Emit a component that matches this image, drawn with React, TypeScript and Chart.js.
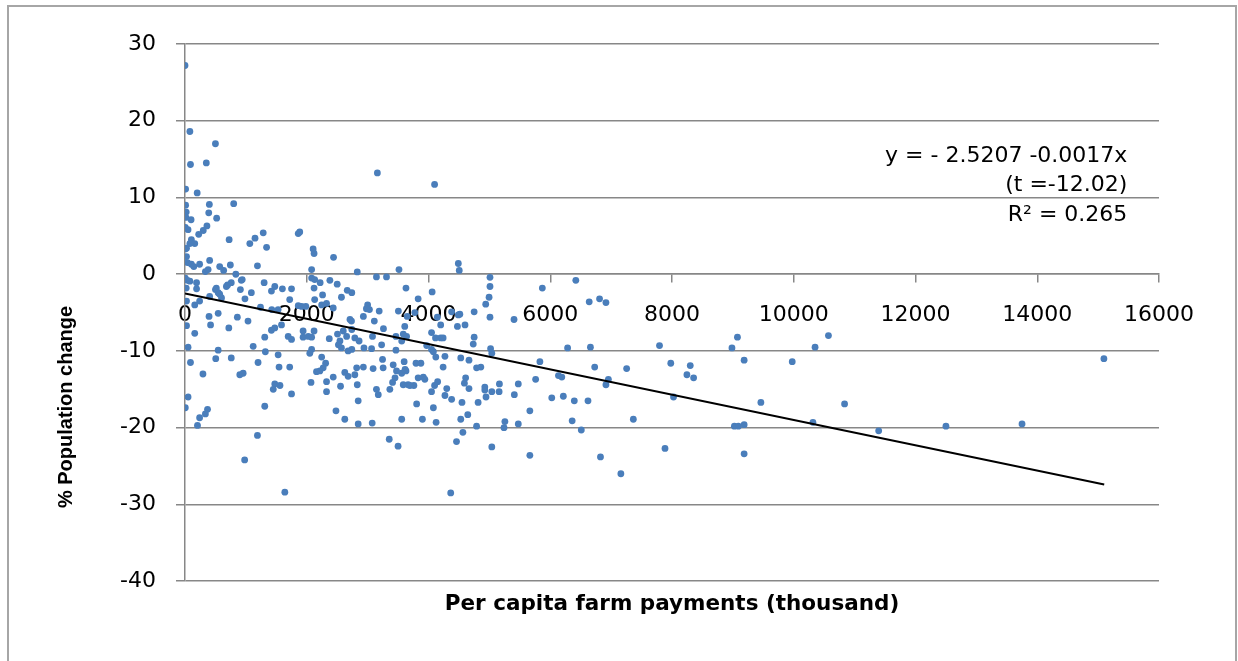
import React, { useEffect, useRef } from "react";
import { Chart, registerables } from "chart.js";

Chart.register(...registerables);

// Per capita farm payments (thousand) vs % population change, one pair per county
const countyPoints: [number, number][] = [
  [0, 27.2], [80, 18.6], [500, 17.0], [90, 14.3], [350, 14.5], [10, 11.1], [200, 10.6], [10, 9.0], [400, 9.1], [800, 9.2],
  [390, 8.0], [20, 8.1], [15, 7.4], [100, 7.1], [520, 7.3], [5, 6.1], [50, 5.8], [360, 6.3], [300, 5.7], [225, 5.2],
  [105, 4.5], [160, 4.0], [80, 4.0], [5, 3.3], [25, 3.4], [25, 2.3], [40, 1.5], [105, 1.3], [240, 1.3], [335, 0.35],
  [405, 1.8], [725, 4.5], [1065, 4.0], [1150, 4.7], [1285, 5.4], [1340, 3.5], [1190, 1.1], [745, 1.2], [570, 1.0], [635, 0.5],
  [835, 0.0], [1860, 5.3], [1885, 5.5], [2105, 3.3], [2120, 2.7], [2440, 2.2], [2080, 0.6], [40, -0.8], [190, -1.1], [925, -0.8],
  [700, -1.4], [1300, -1.1], [1475, -1.6], [2080, -0.5], [2130, -0.7], [2220, -1.1], [2380, -0.8], [2500, -1.3], [2665, -2.1], [2120, -1.8],
  [1750, -1.9], [1600, -1.9], [500, -2.0], [20, -1.8], [190, -1.9], [910, -2.0], [3160, 13.2], [4100, 11.7], [2830, 0.3], [3145, -0.35],
  [3310, -0.35], [3515, 0.6], [3630, -1.8], [2570, -3.0], [2130, -3.3], [2260, -2.7], [3000, -4.0], [3030, -4.6], [3190, -4.8], [3830, -3.2],
  [4490, 1.4], [4505, 0.5], [5010, -0.4], [5010, -1.6], [4995, -3.0], [4940, -3.9], [5010, -5.6], [5405, -5.9], [5870, -1.8], [6420, -0.8],
  [6640, -3.6], [6810, -3.2], [6915, -3.7], [4060, -2.3], [4750, -4.9], [4515, -5.2], [4380, -4.9], [4145, -5.6], [4200, -6.6], [4600, -6.6],
  [4475, -6.8], [3610, -6.8], [6285, -9.6], [6660, -9.5], [7795, -9.3], [7980, -11.6], [8300, -11.9], [8245, -13.1], [8355, -13.5], [9075, -8.2],
  [8985, -9.6], [9185, -11.2], [5830, -11.4], [5760, -13.7], [6135, -13.2], [6190, -13.4], [6730, -12.1], [7255, -12.3], [6955, -13.7], [6915, -14.4],
  [6025, -16.1], [6215, -15.9], [6395, -16.5], [6620, -16.5], [5665, -17.8], [6360, -19.1], [6510, -20.3], [7365, -18.9], [8025, -16.0], [9025, -19.8],
  [9090, -19.8], [9185, -19.6], [9185, -23.4], [7885, -22.7], [6825, -23.8], [7160, -26.0], [5665, -23.6], [10570, -8.0], [10350, -9.5], [9975, -11.4],
  [15095, -11.0], [9460, -16.7], [10835, -16.9], [10315, -19.3], [11395, -20.4], [12500, -19.8], [13750, -19.5], [4050, -7.6], [4200, -8.3], [4115, -8.3],
  [4240, -8.3], [4750, -8.2], [4735, -9.1], [3640, -8.1], [3560, -8.7], [3970, -9.3], [4050, -9.8], [4080, -10.1], [4120, -10.8], [4270, -10.7],
  [4530, -10.9], [4665, -11.2], [4860, -12.1], [5020, -9.7], [5040, -10.3], [4240, -12.1], [3875, -11.6], [3600, -11.4], [3630, -12.6], [3560, -12.9],
  [3830, -13.5], [3915, -13.4], [3940, -13.7], [4150, -14.0], [4100, -14.5], [4610, -13.5], [4590, -14.2], [4665, -14.9], [5165, -14.3], [5475, -14.3],
  [4925, -14.7], [4925, -15.1], [5040, -15.3], [5160, -15.3], [3760, -14.5], [3585, -14.4], [3665, -14.4], [4050, -15.3], [4270, -15.8], [4380, -16.3],
  [4945, -16.0], [5410, -15.7], [4550, -16.7], [4815, -16.7], [3805, -16.9], [4080, -17.4], [4645, -18.3], [4530, -18.9], [3900, -18.9], [4125, -19.3],
  [3560, -18.9], [4565, -20.6], [4790, -19.8], [5255, -19.2], [5240, -20.0], [5475, -19.5], [4460, -21.8], [5040, -22.5], [4365, -28.5], [3500, -22.4],
  [2845, -16.5], [2845, -19.5], [3075, -19.4], [3355, -21.5], [2830, -14.4], [3145, -15.0], [3175, -15.7], [3365, -15.0], [3410, -14.1], [3450, -13.5],
  [3695, -14.5], [4300, -14.9], [2980, -4.5], [2930, -5.5], [3110, -6.1], [3260, -7.1], [2735, -6.1], [2790, -8.3], [3080, -8.1], [2940, -9.6],
  [3065, -9.7], [3230, -9.2], [3465, -8.1], [3585, -7.8], [3465, -9.9], [3505, -4.8], [3650, -5.5], [3775, -5.0], [4490, -5.3], [3255, -12.2],
  [3090, -12.3], [2930, -12.1], [2820, -12.2], [3475, -12.6], [3615, -12.4], [3245, -11.1], [3420, -11.8], [3795, -11.6], [2740, -9.8], [2860, -8.7],
  [2740, -7.2], [2740, -2.4], [4790, -12.2], [985, -3.2], [600, -3.1], [405, -2.9], [240, -3.5], [160, -4.0], [25, -3.5], [545, -2.4],
  [1090, -2.4], [1240, -4.3], [1420, -2.2], [1720, -3.3], [1425, -4.6], [1530, -4.6], [1860, -4.1], [1915, -4.2], [2245, -4.0], [2325, -3.8],
  [2435, -4.4], [2710, -5.9], [545, -5.1], [395, -5.5], [860, -5.6], [1035, -6.1], [420, -6.6], [25, -6.7], [720, -7.0], [160, -7.7],
  [1310, -8.2], [1420, -7.3], [1475, -7.0], [1585, -6.6], [1695, -8.1], [1750, -8.5], [1940, -8.2], [2025, -8.1], [2080, -8.2], [1940, -7.4],
  [2120, -7.4], [2370, -8.4], [2505, -7.8], [2600, -7.4], [2655, -8.1], [2545, -8.7], [2520, -9.2], [2570, -9.6], [2680, -10.0], [2080, -9.8],
  [2050, -10.3], [1530, -10.5], [1320, -10.1], [1120, -9.4], [545, -9.9], [50, -9.5], [90, -11.5], [505, -11.0], [760, -10.9], [1200, -11.5],
  [1545, -12.1], [1720, -12.1], [2245, -10.8], [2310, -11.6], [2270, -12.2], [2215, -12.6], [2625, -12.8], [2680, -13.3], [295, -13.0], [900, -13.1],
  [955, -12.9], [1475, -14.3], [1450, -15.0], [1560, -14.5], [1750, -15.6], [2070, -14.1], [2325, -14.0], [2435, -13.4], [2555, -14.6], [2325, -15.3],
  [50, -16.0], [5, -17.4], [370, -17.6], [335, -18.2], [240, -18.7], [205, -19.7], [1310, -17.2], [2480, -17.8], [2625, -18.9], [1190, -21.0],
  [980, -24.2], [1640, -28.4], [2160, -12.7], [2790, -13.1], [5, -0.5], [80, -0.9], [515, -1.8], [680, -1.6], [760, -1.1], [570, -2.6],
  [940, -0.7], [1985, -4.2], [380, 0.6], [145, 1.0],
];

// Fitted trend line end points
const trendX = [0, 15100];
const trendY = [-2.52, -27.4];

// Axis ranges / ticks
const xRange = [0, 16000];
const xStep = 2000;
const yRange = [-40, 30];
const yStep = 10;

const xTitle = "Per capita farm payments (thousand)";
const yTitle = "% Population change";
const equationLines = ["y = - 2.5207 -0.0017x", "(t =-12.02)", "R\u00B2 = 0.265"];
// anchor of the equation text block (data units)
const equationAnchor = [15480, 15.4];
// vertical centre of the y-axis title (data units)
const yTitleCenter = -17.3;

const POINT_COLOR = "#4a7ebb";
const GRID_COLOR = "#878787";

const textPlugin = {
  id: "extraText",
  afterDatasetsDraw(chart: any) {
    const { ctx, scales } = chart;
    const x = scales.x.getPixelForValue(equationAnchor[0]);
    const y0 = scales.y.getPixelForValue(equationAnchor[1]);
    ctx.save();
    ctx.font = '22px "DejaVu Sans"';
    ctx.fillStyle = "#000";
    ctx.textAlign = "right";
    ctx.textBaseline = "middle";
    const offsets = [0, 29, 59];
    equationLines.forEach((line, i) => {
      ctx.fillText(line, x, y0 + offsets[i]);
    });
    ctx.restore();

    // y-axis title
    const ty = scales.y.getPixelForValue(yTitleCenter);
    ctx.save();
    ctx.translate(66, ty);
    ctx.rotate(-Math.PI / 2);
    ctx.font = 'bold 20px "Liberation Sans"';
    ctx.fillStyle = "#000";
    ctx.textAlign = "center";
    ctx.textBaseline = "middle";
    ctx.fillText(yTitle, 0, 0);
    ctx.restore();
  },
};

export default function App() {
  const canvasRef = useRef<HTMLCanvasElement | null>(null);

  useEffect(() => {
    if (!canvasRef.current) return;
    const chart = new Chart(canvasRef.current, {
      type: "scatter",
      data: {
        datasets: [
          {
            data: countyPoints.map(([x, y]) => ({ x, y })),
            pointStyle: "circle",
            pointRadius: 3.4,
            backgroundColor: POINT_COLOR,
            borderColor: POINT_COLOR,
            borderWidth: 0,
            order: 2,
          },
          {
            type: "line" as any,
            data: trendX.map((x, i) => ({ x, y: trendY[i] })),
            borderColor: "#000",
            borderWidth: 2,
            pointRadius: 0,
            showLine: true,
            fill: false,
            order: 1,
          } as any,
        ],
      },
      options: {
        responsive: false,
        animation: false,
        events: [],
        layout: { padding: { left: 8, top: 44, right: 79, bottom: 34 } },
        plugins: {
          legend: { display: false },
          tooltip: { enabled: false },
          title: {
            display: true,
            position: "bottom",
            fullSize: false,
            text: xTitle,
            color: "#000",
            font: { family: "DejaVu Sans", weight: "bold", size: 21.5 },
            padding: { top: 10, bottom: 10 },
          },
        },
        scales: {
          x: {
            type: "linear",
            min: xRange[0],
            max: xRange[1],
            position: { y: 0 } as any,
            ticks: {
              stepSize: xStep,
              color: "#000",
              font: { family: "DejaVu Sans", size: 22 },
              padding: 20,
              maxRotation: 0,
              autoSkip: false,
              callback: (v: any) => String(v),
            },
            grid: {
              drawOnChartArea: false,
              drawTicks: true,
              tickLength: 8,
              color: GRID_COLOR,
              lineWidth: 1.5,
            },
            border: { display: true, color: GRID_COLOR, width: 1.5 },
          },
          y: {
            type: "linear",
            min: yRange[0],
            max: yRange[1],
            ticks: {
              stepSize: yStep,
              color: "#000",
              font: { family: "DejaVu Sans", size: 22 },
              padding: 20,
            },
            grid: { color: GRID_COLOR, lineWidth: 1.5, tickLength: 9 },
            border: { display: true, color: GRID_COLOR, width: 1.5 },
            afterFit: (s: any) => {
              s.width = 177;
            },
          },
        },
      },
      plugins: [textPlugin],
    });
    return () => chart.destroy();
  }, []);

  return (
    <div style={{ position: "absolute", left: 0, top: 0, width: 1238, height: 661, background: "#fff", overflow: "hidden" }}>
      <div
        style={{
          position: "absolute",
          left: 7,
          top: 5,
          width: 1230,
          height: 700,
          boxSizing: "border-box",
          borderTop: "2px solid #a6a6a6",
          borderLeft: "2px solid #a6a6a6",
          borderRight: "2px solid #a6a6a6",
        }}
      />
      <canvas
        ref={canvasRef}
        width={1238}
        height={661}
        style={{ position: "absolute", left: 0, top: 0, display: "block" }}
      />
    </div>
  );
}
